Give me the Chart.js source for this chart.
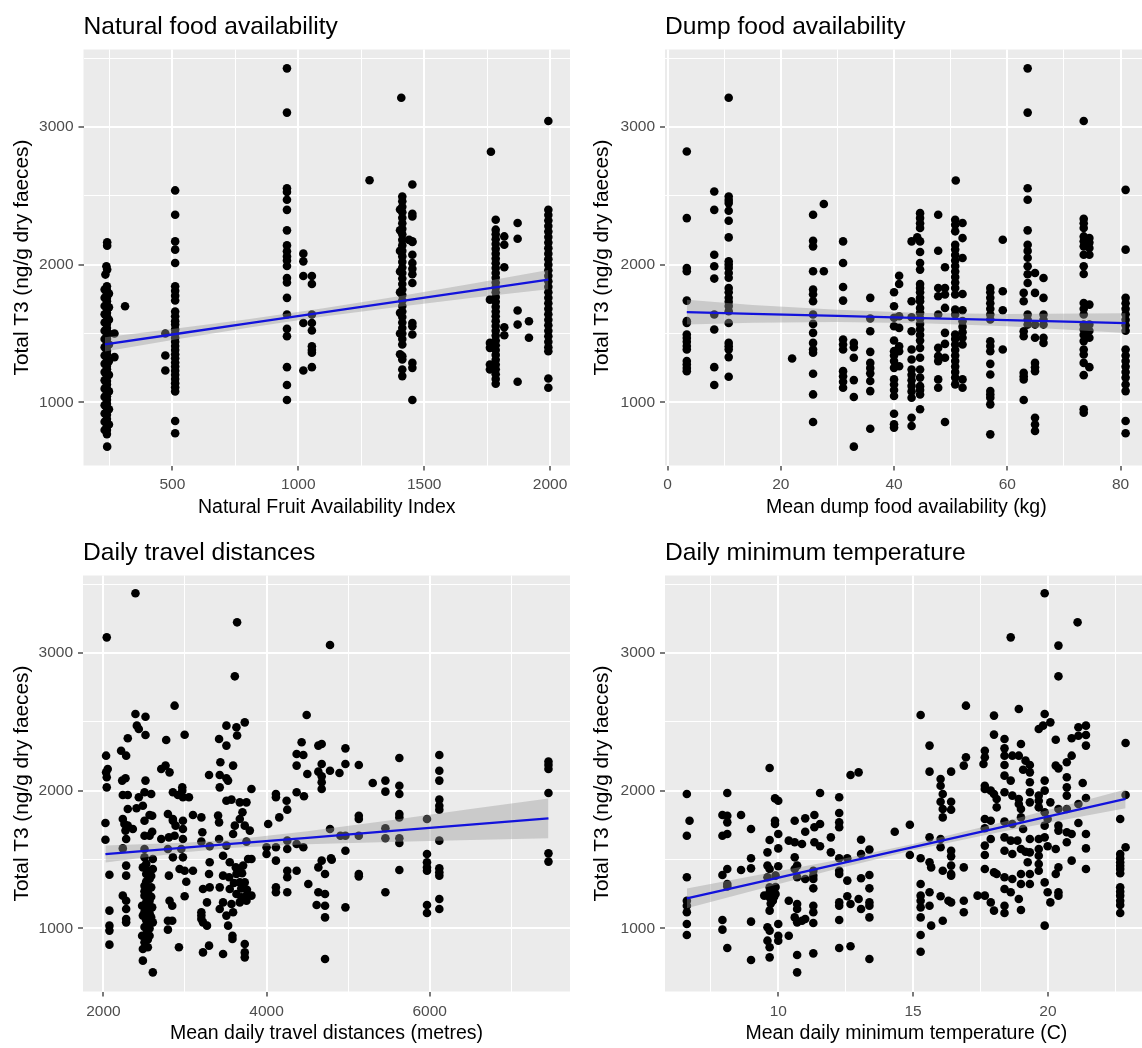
<!DOCTYPE html>
<html>
<head>
<meta charset="utf-8">
<script src="https://cdn.jsdelivr.net/npm/chart.js@4.4.1/dist/chart.umd.min.js"></script>
<style>
  body { margin: 0; background: #fff; }
  #wrap { position: relative; width: 1142px; height: 1048px; overflow: hidden; background: #fff; }
  #wrap canvas { position: absolute; }
</style>
</head>
<body>
<div id="wrap">
  <canvas id="natural" width="580" height="520" style="left:0;top:0"></canvas>
  <canvas id="dump" width="572" height="520" style="left:580px;top:0"></canvas>
  <canvas id="travel" width="580" height="528" style="left:0;top:520px"></canvas>
  <canvas id="temp" width="572" height="528" style="left:580px;top:520px"></canvas>
</div>
<script>
// ============ AXES ============
const t3Major = [1000, 2000, 3000];
const t3Minor = [1500, 2500, 3500];

const natMajor = [500, 1000, 1500, 2000];
const natMinor = [250, 750, 1250, 1750];
const dumpMajor = [0, 20, 40, 60, 80];
const dumpMinor = [10, 30, 50, 70];
const travelMajor = [2000, 4000, 6000];
const travelMinor = [3000, 5000, 7000];
const tempMajor = [10, 15, 20];
const tempMinor = [7.5, 12.5, 17.5, 22.5];

// ============ POINTS (x, total T3) ============
const natPoints = [
  [241,2162],[241,2138],[238,1988],[241,1964],[234,1928],
  [240,1843],[240,1815],[240,1790],[240,1760],[240,1735],[240,1705],[240,1680],[240,1650],[240,1625],[240,1595],
  [240,1570],[240,1540],[240,1515],[240,1485],[240,1460],[240,1430],[240,1405],[240,1375],[240,1350],[240,1320],
  [240,1295],[240,1265],[240,1240],[240,1210],[240,1185],[240,1155],[240,1130],[240,1100],[240,1075],[240,1045],
  [240,1020],[240,990],[240,965],[240,935],[240,910],[240,880],[240,855],[240,825],[240,800],[240,770],
  [231,1820],[231,1760],[231,1700],[231,1640],[231,1580],[231,1520],[231,1460],[231,1400],[231,1340],[231,1280],
  [231,1220],[231,1160],[231,1100],[231,1040],[231,980],[231,920],[231,860],[231,800],
  [248,1790],[248,1690],[248,1600],[248,1500],[248,1420],[248,1300],[248,1200],[248,1080],[248,950],[248,840],
  [241,679],[312,1698],[270,1500],[270,1329],
  [511,2539],[511,2362],[511,2169],[511,2109],[511,2012],[511,1843],[511,1810],[511,1775],[511,1740],
  [511,1660],[511,1625],[511,1590],[511,1565],[511,1530],[511,1500],[511,1470],[511,1440],[511,1410],[511,1380],
  [511,1350],[511,1320],[511,1290],[511,1260],[511,1230],[511,1200],[511,1170],[511,1140],[511,1110],[511,1080],
  [511,865],[511,776],[472,1500],[472,1341],[472,1232],
  [955,3425],[955,3104],[955,2555],[955,2527],[955,2471],[955,2398],[955,2249],[955,2140],[955,2097],[955,2060],
  [955,2030],[955,1990],[955,1903],[955,1870],[955,1759],[955,1638],[955,1534],[955,1480],[955,1256],[955,1126],[955,1017],
  [1020,2080],[1020,2024],[1020,1918],[1020,1577],[1020,1232],
  [1054,1918],[1054,1860],[1054,1638],[1054,1577],[1054,1522],[1054,1408],[1054,1380],[1054,1360],[1054,1256],
  [1409,3212],[1283,2613],[1453,2582],
  [1413,2495],[1413,2460],[1413,2420],[1413,2380],[1413,2340],[1413,2300],[1413,2260],[1413,2220],[1413,2180],[1413,2140],
  [1413,2100],[1413,2060],[1413,2020],[1413,1980],[1413,1940],[1413,1900],[1413,1860],[1413,1820],[1413,1780],[1413,1740],
  [1413,1700],[1413,1660],[1413,1620],[1413,1580],[1413,1540],[1413,1500],[1413,1460],[1413,1420],[1413,1336],[1413,1312],
  [1413,1239],[1413,1191],
  [1404,2400],[1404,2250],[1404,2100],[1404,1950],[1404,1800],[1404,1650],[1404,1500],[1404,1350],[1440,2180],[1453,2165],
  [1453,2370],[1453,2350],[1453,2169],[1453,2072],[1453,2012],[1453,1970],[1453,1930],[1453,1867],[1453,1577],[1453,1553],
  [1453,1493],[1453,1287],[1453,1251],[1453,1017],
  [1784,2326],[1784,2254],[1784,2220],[1784,2185],[1784,2150],[1784,2115],[1784,2080],[1784,2045],[1784,2010],[1784,1975],
  [1784,1940],[1784,1905],[1784,1870],[1784,1835],[1784,1800],[1784,1765],[1784,1730],[1784,1695],[1784,1660],[1784,1625],
  [1784,1590],[1784,1555],[1784,1520],[1784,1485],[1784,1450],[1784,1415],[1784,1380],[1784,1345],[1784,1310],[1784,1275],
  [1784,1240],[1784,1205],[1784,1170],[1784,1135],
  [1761,1746],[1761,1432],[1761,1396],[1761,1275],[1761,1239],[1765,2820],
  [1818,2205],[1818,2145],[1818,1981],[1818,1546],[1818,1488],
  [1871,2302],[1871,2188],[1871,1667],[1871,1565],[1871,1150],
  [1916,1589],[1916,1469],
  [1993,3043],[1993,2398],[1993,2360],[1993,2320],[1993,2280],[1993,2240],[1993,2200],[1993,2160],[1993,2120],[1993,2080],
  [1993,2040],[1993,2000],[1993,1960],[1993,1920],[1993,1880],[1993,1840],[1993,1800],[1993,1760],[1993,1720],[1993,1680],
  [1993,1640],[1993,1600],[1993,1560],[1993,1520],[1993,1480],[1993,1440],[1993,1400],[1993,1372],[1993,1174],[1993,1106]
];

const dumpPoints = [
  [3.4,2821],[3.4,2338],[3.4,1976],[3.4,1952],[3.4,1739],[3.4,1590],[3.4,1577],[3.4,1493],[3.4,1467],[3.4,1440],
  [3.4,1410],[3.4,1384],[3.4,1300],[3.4,1275],[3.4,1250],[3.4,1227],
  [8.25,2531],[8.25,2398],[8.25,2072],[8.25,1988],[8.25,1899],[8.25,1638],[8.25,1529],[8.25,1256],[8.25,1126],
  [10.8,3212],[10.8,2495],[10.8,2470],[10.8,2447],[10.8,2391],[10.8,2319],[10.8,2198],[10.8,2024],[10.8,2000],[10.8,1976],
  [10.8,1940],[10.8,1905],[10.8,1831],[10.8,1800],[10.8,1760],[10.8,1730],[10.8,1700],[10.8,1662],[10.8,1577],[10.8,1432],
  [10.8,1408],[10.8,1384],[10.8,1329],[10.8,1186],
  [22.0,1319],
  [25.7,2362],[25.7,2174],[25.7,2133],[25.7,1952],[25.7,1819],[25.7,1785],[25.7,1734],[25.7,1638],[25.7,1570],[25.7,1505],
  [25.7,1432],[25.7,1384],[25.7,1360],[25.7,1208],[25.7,1058],[25.7,858],
  [27.6,2440],[27.6,1952],
  [31.0,2169],[31.0,2012],[31.0,1838],[31.0,1739],[31.0,1457],[31.0,1420],[31.0,1384],[31.0,1227],[31.0,1190],[31.0,1150],[31.0,1106],
  [32.9,1432],[32.9,1400],[32.9,1324],[32.9,1162],[32.9,1039],[32.9,679],
  [35.8,1759],[35.8,1609],[35.8,1517],[35.8,1367],[35.8,1287],[35.8,1250],[35.8,1211],[35.8,1155],[35.8,1082],[35.8,809],
  [40.0,1800],[40.0,1698],[40.0,1614],[40.0,1553],[40.0,1449],[40.0,1372],[40.0,1340],[40.0,1300],[40.0,1251],[40.0,1167],
  [40.0,1130],[40.0,1090],[40.0,1046],[40.0,918],[40.0,841],[40.0,817],
  [40.9,1920],[40.9,1860],[40.9,1626],[40.9,1541],[40.9,1408],[40.9,1372],[40.9,1263],
  [43.1,2169],[43.1,1734],[43.1,1618],[43.1,1517],[43.1,1384],[43.1,1312],[43.1,1239],[43.1,1200],[43.1,1160],[43.1,1120],
  [43.1,1080],[43.1,1034],[43.1,889],[43.1,829],
  [44.1,2198],
  [44.6,2374],[44.6,2338],[44.6,2300],[44.6,2266],[44.6,2169],[44.6,2092],[44.6,2012],[44.6,1964],[44.6,1860],[44.6,1830],
  [44.6,1800],[44.6,1760],[44.6,1734],[44.6,1686],[44.6,1650],[44.6,1610],[44.6,1570],[44.6,1530],[44.6,1490],[44.6,1450],
  [44.6,1396],[44.6,1324],[44.6,1239],[44.6,1180],[44.6,1118],[44.6,1090],[44.6,1058],[44.6,950],
  [47.8,2362],[47.8,2101],[47.8,1831],[47.8,1771],[47.8,1638],[47.8,1396],[47.8,1336],[47.8,1300],[47.8,1167],[47.8,1106],
  [49.0,1981],[49.0,1831],[49.0,1783],[49.0,1686],[49.0,1505],[49.0,1425],[49.0,1324],[49.0,858],
  [50.9,2611],
  [50.8,2326],[50.8,2290],[50.8,2242],[50.8,2145],[50.8,2110],[50.8,2070],[50.8,2030],[50.8,1990],[50.8,1950],[50.8,1910],
  [50.8,1870],[50.8,1830],[50.8,1783],[50.8,1674],[50.8,1638],[50.8,1493],[50.8,1460],[50.8,1420],[50.8,1380],[50.8,1340],
  [50.8,1300],[50.8,1260],[50.8,1220],[50.8,1180],[50.8,1131],
  [52.1,2302],[52.1,2193],[52.1,2048],[52.1,1787],[52.1,1669],[52.1,1590],[52.1,1550],[52.1,1510],[52.1,1470],[52.1,1420],
  [52.1,1167],[52.1,1106],
  [57.0,1831],[57.0,1800],[57.0,1760],[57.0,1720],[57.0,1680],[57.0,1638],[57.0,1602],[57.0,1444],[57.0,1410],[57.0,1372],
  [57.0,1280],[57.0,1203],[57.0,1082],[57.0,1058],[57.0,1034],[57.0,986],[57.0,768],
  [59.2,2181],[59.2,1807],[59.2,1669],[59.2,1384],
  [63.6,3425],[63.6,3104],[63.6,2555],[63.6,2471],[63.6,2249],[63.6,2145],[63.6,2100],[63.6,2050],[63.6,1988],[63.6,1930],
  [63.6,1867],[63.6,1638],[63.6,1600],[63.6,1565],
  [62.9,1795],[62.9,1734],[62.9,1517],[62.9,1480],[62.9,1215],[62.9,1190],[62.9,1167],[62.9,1017],
  [64.9,1940],[64.9,1795],[64.9,1565],[64.9,1469],[64.9,1287],[64.9,1255],[64.9,1227],[64.9,889],[64.9,840],[64.9,793],
  [66.4,1903],[66.4,1759],[66.4,1638],[66.4,1600],[66.4,1565],[66.4,1469],[66.4,1432],
  [73.5,3043],[73.5,2333],[73.5,2300],[73.5,2266],[73.5,2205],[73.5,2170],[73.5,2133],[73.5,2072],[73.5,1988],[73.5,1932],
  [73.5,1722],[73.5,1680],[73.5,1638],[73.5,1565],[73.5,1530],[73.5,1490],[73.5,1445],[73.5,1384],[73.5,1348],[73.5,1287],
  [73.5,1198],[73.5,950],[73.5,925],
  [74.5,2193],[74.5,2160],[74.5,2121],[74.5,2072],[74.5,1710],[74.5,1565],[74.5,1520],[74.5,1469],[74.5,1256],
  [80.9,2543],[80.9,2109],[80.9,1759],[80.9,1720],[80.9,1680],[80.9,1640],[80.9,1600],[80.9,1560],[80.9,1520],[80.9,1384],
  [80.9,1340],[80.9,1300],[80.9,1260],[80.9,1220],[80.9,1180],[80.9,1130],[80.9,1082],[80.9,865],[80.9,776]
];

const travelPoints = [
  [2041,3113],[2393,3433],
  [2033,2254],[2053,2157],[2033,2133],[2041,2097],[2041,2024],[2025,1765],[2025,1644],
  [2074,1390],[2074,1129],[2074,1020],[2074,984],[2074,882],
  [2217,2290],[2279,2254],[2299,2380],[2230,2073],[2271,2090],[2238,1969],[2299,1969],[2299,1867],
  [2238,1794],[2258,1758],[2299,1746],[2361,1722],[2271,1710],[2279,1649],[2238,1581],
  [2279,1456],[2279,1383],[2238,1238],[2279,1201],[2279,1141],[2279,1068],[2279,1044],
  [2393,2557],[2410,2472],[2434,2448],[2516,2537],[2516,2404],
  [2406,1872],[2434,1952],[2516,2073],[2504,1988],[2586,1976],
  [2484,1891],[2566,1823],[2598,1818],[2504,1782],[2598,1702],[2504,1673],[2566,1673],
  [2504,1577],[2504,1516],[2606,1504],[2484,1443],[2606,1431],[2525,1395],[2566,1359],[2504,1310],[2586,1298],
  [2504,1238],[2566,1201],[2475,1165],[2545,1153],[2598,1153],[2484,1093],[2545,1044],[2606,1044],[2475,947],
  [2566,947],[2484,850],[2545,863],[2484,766],[2606,681],
  [2525,1470],[2545,1420],[2525,1340],[2586,1380],[2504,1270],[2545,1260],[2586,1230],[2525,1190],[2504,1120],
  [2566,1110],[2525,1060],[2586,1080],[2504,1010],[2566,1000],[2525,960],[2504,900],[2545,920],
  [2709,1649],[2709,2157],[2762,2182],[2811,2133],[2770,2368],[2873,2617],
  [2791,1831],[2803,1661],[2791,1577],[2852,1794],[2873,1673],[2852,1516],[2803,1383],[2811,1201],[2844,1165],
  [2791,1056],[2791,991],[2844,1056],[2926,863],
  [2852,1988],[2967,2000],[2975,1952],[2914,1969],[3049,1952],[2996,2406],[2967,2024],
  [2852,1782],[2885,1746],[2975,1782],[2975,1722],[2975,1649],[2955,1577],
  [2975,1516],[2934,1431],[2996,1419],[3016,1339],[2996,1233],
  [3098,1823],[3201,1806],[3098,1419],[3213,1698],[3201,1630],[3303,1596],[3303,1480],[3295,1395],[3303,1298],
  [3221,1286],[3270,1189],[3201,1117],[3201,1068],[3221,826],[3295,875],[3201,1093],[3221,1044],[3270,1020],
  [3295,2114],
  [3418,2375],[3508,2327],[3434,2206],[3426,2114],[3508,2090],[3426,2024],[3528,2073],
  [3508,2472],[3631,2460],[3639,2400],[3733,2496],[3611,2830],[3639,3222],[3590,2182],
  [3406,1819],[3418,1770],[3508,1927],[3570,1935],[3672,1915],[3705,1843],[3754,1915],[3815,2012],[3672,1794],
  [3733,1746],[3795,1710],[3611,1746],
  [3418,1649],[3508,1601],[3590,1685],[3754,1630],[3467,1528],[3549,1480],[3623,1443],[3713,1456],[3774,1504],
  [3815,1504],[3467,1383],[3541,1371],[3631,1395],[3672,1334],[3733,1334],[3426,1298],[3549,1286],[3631,1250],
  [3693,1226],[3754,1238],[3815,1238],[3467,1189],[3570,1177],[3672,1189],[3754,1201],[3426,1141],[3508,1093],
  [3590,1117],[3529,1020],[3582,947],[3733,887],[3733,826],[3733,790],[3467,814],[3582,923],
  [3690,1290],[3760,1280],[3600,1330],[3650,1420],[3700,1400],
  [4020,1758],[4115,1976],[4115,1952],[4246,1927],[4254,1862],[4156,1806],[4000,1589],[4000,1540],[4115,1589],
  [4115,1492],[4254,1637],[4254,1577],[4254,1419],[4254,1371],[4115,1298],[4115,1262],[4254,1262],
  [4369,1988],[4459,1959],[4369,2266],[4451,2259],[4430,2351],[4492,2549],[4369,2182],[4500,2121],[4369,1613],
  [4451,1589],[4369,1419],[4512,1322],
  [4635,2327],[4676,2339],[4676,2194],[4635,2138],[4676,2104],[4676,2061],[4676,2012],[4778,2145],[4778,3058],
  [4635,1443],[4676,1492],[4717,1395],[4635,1262],[4717,1250],[4614,1170],[4717,1165],[4717,1080],[4717,778],
  [4778,1722],[4799,1499],[4790,1509],
  [4967,2307],[4967,2194],[4894,2128],[5131,2186],[4967,1564],[4967,1153],[4906,1673],[4967,1673],
  [5131,1818],[5131,1794],[5131,1673],[5131,1395],[5131,1378],
  [5302,2056],
  [5457,2073],[5457,1993],[5457,1727],[5457,1654],[5457,1262],
  [5628,2237],[5628,2036],[5628,1976],[5628,1831],[5628,1806],[5628,1654],[5628,1620],[5628,1424],
  [5967,1794],[5967,1540],[5967,1480],[5967,1443],[5967,1419],[5967,1170],[5967,1112],
  [6118,2259],[6118,2145],[6118,2073],[6118,1935],[6118,1891],[6118,1862],[6118,1637],[6118,1436],[6118,1407],
  [6118,1383],[6118,1213],[6118,1141],
  [7456,2211],[7456,2186],[7456,2157],[7456,1983],[7456,1545],[7456,1485]
];

const tempPoints = [
  [6.61,1976],[6.71,1782],[6.61,1673],[6.61,1371],[6.61,1201],[6.61,1165],[6.61,1117],[6.61,1032],[6.61,952],
  [8.11,1983],[7.93,1823],[8.11,1818],[8.11,1770],[8.11,1685],[7.93,1673],[8.62,1823],[8.99,1722],
  [8.11,1431],[7.93,1388],[8.11,1322],[8.11,1305],[7.93,1061],[7.93,991],[8.11,858],
  [8.62,1424],[8.99,1509],[8.99,1436],[8.99,1049],[8.99,771],
  [9.68,2165],[9.88,1944],[10.0,1927],
  [9.88,1782],[9.88,1758],[10.0,1685],[9.68,1642],[10.0,1581],[9.60,1552],[10.0,1451],
  [9.60,1456],[9.68,1431],[9.60,1371],[9.90,1383],[9.68,1298],[9.68,1262],[9.80,1274],[9.90,1250],[9.48,1238],
  [9.68,1226],[9.80,1201],[9.68,1129],[9.60,1008],[9.68,984],[9.60,911],[9.68,863],[9.68,790],[10.0,1032],
  [10.0,947],[10.0,911],[9.75,1290],[9.85,1230],[9.72,1180],[9.90,1300],[9.78,1250],
  [10.39,947],
  [10.61,1782],[10.39,1637],[10.61,1625],[10.88,1613],[11.0,1799],[11.0,1702],[11.34,1823],[11.34,1734],[11.55,1758],
  [11.55,1596],[11.34,1625],[11.95,1661],[12.26,1952],[12.26,1838],[12.26,1770],[12.26,1734],[11.55,1983],
  [12.56,1509],[12.26,1509],
  [10.61,1516],[10.70,1456],[10.61,1431],[10.70,1371],[11.0,1359],[11.30,1419],[11.30,1383],[11.30,1359],[11.30,1291],
  [10.39,1201],[10.70,1177],[10.70,1141],[11.0,1068],[10.70,1044],[11.30,1165],[11.30,1117],[11.30,1039],[10.70,807],
  [10.70,681],[11.30,819],[10.61,1080],[10.88,1056],
  [11.95,1552],[12.26,1419],[12.26,1395],[12.56,1347],[12.56,1233],[12.68,1177],[12.26,1189],[12.26,1165],[12.26,1061],
  [12.26,858],[12.68,870],
  [12.68,2114],[12.98,2133],
  [13.07,1644],[13.07,1540],[13.38,1572],[13.07,1364],[13.38,1388],[13.38,1291],[12.98,1213],[13.07,1141],[13.38,1189],
  [13.38,1165],[13.38,1080],[13.38,778],
  [14.32,1702],
  [14.88,1753],[14.88,1533],[15.28,2549],
  [15.28,1509],[15.28,1322],[15.28,1238],[15.28,1201],[15.28,1153],[15.28,1080],[15.28,952],[15.28,831],
  [15.61,2327],[15.61,2138],[15.61,1661],[15.61,1480],[15.61,1262],[15.61,1165],[15.67,1020],[15.67,1443],
  [16.02,2085],[16.02,2036],[16.10,1976],[16.02,1920],[16.10,1867],[16.10,1806],[16.02,1589],[16.10,1419],[16.02,1649],
  [16.41,2138],[16.41,1920],[16.41,1862],[16.41,1564],[16.41,1523],[16.41,1456],[16.41,1395],[16.41,1383],[16.41,1189],
  [16.02,1233],[16.31,1201],[16.10,1056],
  [16.88,1443],[16.88,1201],[16.88,1117],[16.96,2617],[16.96,2242],[16.88,2182],[17.39,1238],[17.66,1238],
  [17.66,2290],[17.66,2242],[17.61,2194],[17.66,2036],[17.66,2012],[17.88,2000],[18.0,1976],[18.10,1940],[18.10,1879],
  [17.66,1794],[17.88,1782],[17.66,1727],[17.66,1601],[17.66,1533],[17.88,1649],[17.66,1431],[18.0,1407],[18.10,1395],
  [17.88,1189],[18.0,1129],[18.0,2545],[18.0,2407],
  [18.39,2375],[18.39,2307],[18.39,2254],[18.68,2254],[18.92,2254],[18.39,2186],[18.39,2109],[18.62,2073],[18.39,1988],
  [18.68,1964],[18.92,1940],[18.92,1903],[18.39,1775],[18.68,1758],[18.39,1661],[18.62,1637],[18.87,1637],[18.39,1564],
  [18.68,1540],[18.39,1371],[18.68,1359],[18.39,1286],[18.62,1262],[18.39,1165],[18.39,1112],[18.92,1213],[19.0,1134],
  [19.0,1395],[19.0,1322],[19.33,1395],[19.33,1322],[19.0,2339],[19.0,1577],[19.17,1557],[19.25,1480],[19.33,1552],
  [18.62,3113],[18.92,2593],
  [19.17,2218],[19.33,2186],[19.33,2133],[19.33,2061],[19.08,2152],[19.33,1988],[19.33,1915],[19.0,1867],[19.0,1806],
  [19.08,1722],[19.33,1649],[19.66,1649],[19.66,1577],[19.66,1528],[19.66,1468],[19.66,1419],[19.66,1927],[19.66,1964],
  [19.88,2073],[19.88,2000],[20.09,1915],[19.99,1794],[19.88,1746],[19.88,1661],[19.99,1596],[19.88,1334],[19.88,1020],
  [19.99,1262],[20.09,1189],[19.66,1879],[19.88,1843],
  [19.88,3433],[21.10,3222],[20.39,3053],[20.39,2830],
  [19.88,2557],[19.66,2448],[19.82,2472],[20.09,2496],[20.29,2370],
  [20.29,2182],[20.39,2162],[20.70,2206],[20.88,2254],[20.88,2380],[21.13,2399],[21.13,2460],[21.41,2472],[21.41,2404],
  [21.41,2327],
  [20.70,2097],[20.70,2024],[20.70,1964],[20.39,1867],[20.39,1746],[20.39,1710],[20.29,1577],[20.39,1443],[20.29,1395],
  [20.39,1262],[20.39,1238],[20.70,1698],[20.70,1625],[20.88,1685],[21.13,1765],[21.13,1903],[21.41,1947],[21.29,2056],
  [21.41,1685],[21.41,1581],[21.41,1431],[20.88,1492],[20.70,1867],
  [22.88,2346],[22.88,1969],[22.88,1589],
  [22.68,1794],[22.68,1540],[22.68,1510],[22.68,1480],[22.68,1455],[22.68,1431],[22.68,1400],[22.68,1298],[22.68,1267],
  [22.68,1238],[22.68,1200],[22.68,1170],[22.68,1112]
];

// ============ LINEAR FITS (line + 95% band) ============
const natFitX = [232, 500, 800, 1100, 1400, 1700, 1993];
const natFit  = [1421, 1493, 1573, 1653, 1733, 1813, 1891];
const natLo   = [1369, 1453, 1542, 1623, 1695, 1761, 1821];
const natHi   = [1473, 1533, 1604, 1683, 1771, 1865, 1961];

const dumpFitX = [3.4, 15, 30, 45, 60, 80.9];
const dumpFit  = [1655, 1643, 1628, 1612, 1597, 1575];
const dumpLo   = [1565, 1578, 1583, 1575, 1552, 1503];
const dumpHi   = [1745, 1708, 1673, 1649, 1642, 1647];

const travelFitX = [2025, 3000, 3600, 4500, 5500, 6500, 7456];
const travelFit  = [1540, 1587, 1615, 1658, 1706, 1754, 1799];
const travelLo   = [1478, 1552, 1585, 1611, 1628, 1642, 1654];
const travelHi   = [1602, 1622, 1645, 1705, 1784, 1866, 1944];

const tempFitX = [6.61, 9, 12, 15, 18, 21, 22.88];
const tempFit  = [1218, 1324, 1457, 1590, 1723, 1857, 1940];
const tempLo   = [1146, 1270, 1424, 1568, 1690, 1803, 1872];
const tempHi   = [1290, 1378, 1490, 1612, 1756, 1911, 2008];

// ============ DRAWING ============
Chart.defaults.font.family = '"Liberation Sans", Arial, sans-serif';

const panelPlugin = {
  id: 'panel',
  beforeDraw(chart, args, opts) {
    const { ctx, chartArea: a } = chart;
    ctx.save();
    ctx.fillStyle = '#EBEBEB';
    ctx.fillRect(a.left, a.top, a.right - a.left, a.bottom - a.top);
    ctx.fillStyle = '#000';
    ctx.font = '24.6px "Liberation Sans", Arial, sans-serif';
    ctx.textBaseline = 'alphabetic';
    ctx.textAlign = 'left';
    ctx.fillText(opts.title, a.left, a.top - 15.2);
    ctx.restore();
  }
};

const pairs = (xs, ys) => xs.map((x, i) => ({ x, y: ys[i] }));

function gridAxis(major, minor, min, max) {
  const all = major.concat(minor).sort((a, b) => a - b);
  const isMajor = v => major.includes(v);
  return {
    type: 'linear', min, max,
    afterBuildTicks: s => { s.ticks = all.map(v => ({ value: v })); },
    ticks: {
      autoSkip: false, maxRotation: 0, minRotation: 0,
      color: '#4D4D4D', font: { size: 15.5 },
      callback: v => isMajor(v) ? String(v) : ''
    },
    grid: {
      color: '#FFFFFF',
      lineWidth: c => (c.tick && isMajor(c.tick.value)) ? 2 : 1,
      tickLength: 5,
      tickColor: c => (c.tick && isMajor(c.tick.value)) ? '#333333' : 'rgba(0,0,0,0)',
      tickWidth: 1.3
    },
    border: { display: false }
  };
}

function makePanel(id, p) {
  const canvas = document.getElementById(id);
  const x = gridAxis(p.xMajor, p.xMinor, p.xMin, p.xMax);
  x.afterFit = s => { s.height = canvas.height - p.bottom - p.padBottom; };
  x.ticks.padding = p.tickPad;
  x.title = { display: true, text: p.xTitle, color: '#000', font: { size: 19.5 }, padding: { top: 0, bottom: p.titlePad } };

  const y = gridAxis(t3Major, t3Minor, 542, 3562);
  y.afterFit = s => { s.width = p.left; };
  y.ticks.padding = 5;
  y.title = { display: true, text: 'Total T3 (ng/g dry faeces)', color: '#000', font: { size: 20.8 }, padding: { top: 9.8, bottom: 0 } };

  new Chart(canvas, {
    type: 'scatter',
    data: {
      datasets: [
        { type: 'line', data: pairs(p.fitX, p.fit), borderColor: '#1212dc', borderWidth: 2.3, pointRadius: 0, fill: false, tension: 0 },
        { type: 'line', data: pairs(p.fitX, p.lo), borderColor: 'rgba(0,0,0,0)', borderWidth: 0, pointRadius: 0, fill: false, tension: 0 },
        { type: 'line', data: pairs(p.fitX, p.hi), borderColor: 'rgba(0,0,0,0)', borderWidth: 0, pointRadius: 0, fill: '-1', backgroundColor: 'rgba(153,153,153,0.4)', tension: 0 },
        { data: p.points.map(([px, py]) => ({ x: px, y: py })), pointRadius: 4.3, pointBackgroundColor: '#000', pointBorderColor: '#000', pointBorderWidth: 0 }
      ]
    },
    options: {
      responsive: false,
      animation: false,
      events: [],
      layout: { padding: { top: p.top, right: p.right, bottom: p.padBottom, left: 0 } },
      scales: { x, y },
      plugins: { legend: { display: false }, tooltip: { enabled: false }, panel: { title: p.title } }
    },
    plugins: [panelPlugin]
  });
}

makePanel('natural', {
  title: 'Natural food availability', xTitle: 'Natural Fruit Availability Index',
  points: natPoints, fitX: natFitX, fit: natFit, lo: natLo, hi: natHi,
  xMajor: natMajor, xMinor: natMinor, xMin: 147, xMax: 2079,
  top: 49.5, right: 10, left: 83.5, bottom: 465.5, padBottom: 0, tickPad: 5.2, titlePad: 0.3
});
makePanel('dump', {
  title: 'Dump food availability', xTitle: 'Mean dump food availability (kg)',
  points: dumpPoints, fitX: dumpFitX, fit: dumpFit, lo: dumpLo, hi: dumpHi,
  xMajor: dumpMajor, xMinor: dumpMinor, xMin: -0.45, xMax: 84.8,
  top: 49.5, right: 0, left: 85, bottom: 465.5, padBottom: 0, tickPad: 5.2, titlePad: 0.3
});
makePanel('travel', {
  title: 'Daily travel distances', xTitle: 'Mean daily travel distances (metres)',
  points: travelPoints, fitX: travelFitX, fit: travelFit, lo: travelLo, hi: travelHi,
  xMajor: travelMajor, xMinor: travelMinor, xMin: 1750, xMax: 7720,
  top: 55.5, right: 10, left: 83, bottom: 471.5, padBottom: 0, tickPad: 5.8, titlePad: 2.8
});
makePanel('temp', {
  title: 'Daily minimum temperature', xTitle: 'Mean daily minimum temperature (C)',
  points: tempPoints, fitX: tempFitX, fit: tempFit, lo: tempLo, hi: tempHi,
  xMajor: tempMajor, xMinor: tempMinor, xMin: 5.8, xMax: 23.7,
  top: 55.5, right: 0, left: 85, bottom: 471.5, padBottom: 0, tickPad: 5.8, titlePad: 2.8
});
</script>
</body>
</html>
